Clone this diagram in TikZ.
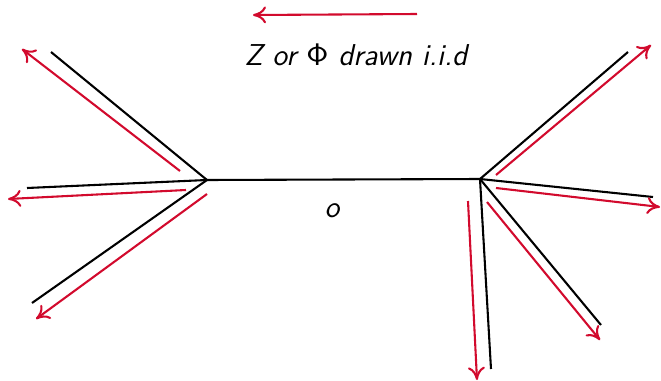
\documentclass[tikz,border=0pt]{standalone}
\usepackage{amsmath, amssymb}
\usepackage{tikz}
\usetikzlibrary{calc, arrows.meta}

\definecolor{flowred}{RGB}{210,10,45}

\begin{document}
\begin{tikzpicture}[x=0.0135cm, y=-0.0135cm,
    edge/.style={thick, black},
    flow/.style={thick, flowred, -{To[length=5pt, width=6.5pt]}},
    lbl/.style={font=\fontsize{11.6}{14}\selectfont\sffamily\slshape, inner sep=0pt}]
  \useasboundingbox (0,0) rectangle (661,381);

  % nodi
  \coordinate (L) at (207,180);
  \coordinate (R) at (480,179);

  % rami a sinistra
  \coordinate (L1) at (51,52);
  \coordinate (L2) at (27,188);
  \coordinate (L3) at (32,303);

  % rami a destra
  \coordinate (R1) at (628,52);
  \coordinate (R2) at (653,197);
  \coordinate (R3) at (601,325);
  \coordinate (R4) at (491,369);

  % albero
  \draw[edge] (L) -- (R);
  \foreach \e in {L1,L2,L3} \draw[edge] (L) -- (\e);
  \foreach \e in {R1,R2,R3,R4} \draw[edge] (R) -- (\e);

  % frecce
  \coordinate (a1) at (180,171);  \coordinate (b1) at (22,49);
  \coordinate (a2) at (186,190);  \coordinate (b2) at (8,199);
  \coordinate (a3) at (207,194);  \coordinate (b3) at (36,319);
  \coordinate (c1) at (496,175);  \coordinate (d1) at (651,45);
  \coordinate (c2) at (496,188);  \coordinate (d2) at (660,207);
  \coordinate (c3) at (487,202);  \coordinate (d3) at (600,340);
  \coordinate (c4) at (468,201);  \coordinate (d4) at (477,380);
  \coordinate (t0) at (417,14);   \coordinate (t1) at (253,15);

  \draw[flow] (a1) -- (b1);
  \draw[flow] (a2) -- (b2);
  \draw[flow] (a3) -- (b3);
  \draw[flow] (c1) -- (d1);
  \draw[flow] (c2) -- (d2);
  \draw[flow] (c3) -- (d3);
  \draw[flow] (c4) -- (d4);
  \draw[flow] (t0) -- (t1);

  % testi
  \node[lbl] (iid) at (356,55) {Z or $\mathsf{\Phi}$ drawn i.i.d};
  \node[lbl] (orig) at (332,211) {o};
\end{tikzpicture}
\end{document}
